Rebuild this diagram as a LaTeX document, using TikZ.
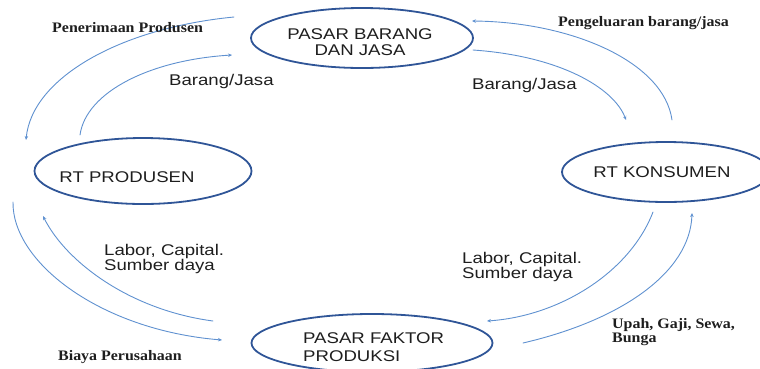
\documentclass[tikz,border=0pt]{standalone}
\usepackage{fontspec}
\usepackage{tikz}
\usetikzlibrary{shapes.geometric,arrows.meta,calc,positioning}
\newfontfamily\sansf{Liberation Sans}[FakeStretch=1.2]
\newfontfamily\serf{Liberation Serif}[FakeStretch=1.1]
\definecolor{ellblue}{RGB}{47,85,151}
\definecolor{arrblue}{RGB}{95,145,208}
\definecolor{txt}{RGB}{30,30,30}
\tikzset{
  pasar/.style={draw=ellblue,line width=1.8pt,ellipse,inner sep=0pt},
  lab/.style={inner sep=0pt,anchor=west,text=txt,font=\fontsize{15.5}{15}\sansf,align=left},
  slab/.style={inner sep=0pt,anchor=west,text=txt,font=\fontsize{14.5}{14.5}\serf\bfseries,align=left},
  alir/.style={draw=arrblue,line width=0.9pt,-{Stealth[length=4pt,width=3.5pt]}}
}
\begin{document}
\begin{tikzpicture}[x=1pt,y=-1pt,line join=round,line cap=round]
		\useasboundingbox (0,0) rectangle (760,368);
		% pasar dan rumah tangga
		\node[pasar,minimum width=222pt,minimum height=60pt] (PB) at (362,38) {};
		\node[pasar,minimum width=217pt,minimum height=66pt] (RTP) at (143,171) {};
		\node[pasar,minimum width=208pt,minimum height=60pt] (RTK) at (666,172) {};
		\node[pasar,minimum width=241pt,minimum height=58pt] (PF) at (372,343) {};
		\node[lab,anchor=center,align=center,font=\fontsize{15.5}{16.5}\sansf] (tPB) at (360,42) {PASAR BARANG\\DAN JASA};
		\node[lab,anchor=center] (tRTP) at (127,177.5) {RT PRODUSEN};
		\node[lab,anchor=center] (tRTK) at (662,172.5) {RT KONSUMEN};
		\node[lab,font=\fontsize{15.5}{18}\sansf] (tPF) at (303,347) {PASAR FAKTOR\\PRODUKSI};
		% ujung panah
		\coordinate (a1) at (234,17);  \coordinate (b1) at (26,140);
		\coordinate (a2) at (80,135);  \coordinate (b2) at (232,55);
		\coordinate (a3) at (672,120); \coordinate (b3) at (472,21);
		\coordinate (a4) at (473,50);  \coordinate (b4) at (626,120);
		\coordinate (a5) at (13,202);  \coordinate (b5) at (222,340);
		\coordinate (a6) at (213,321); \coordinate (b6) at (43,216);
		\coordinate (a7) at (653,212); \coordinate (b7) at (487,321);
		\coordinate (a8) at (523,343); \coordinate (b8) at (692,213);
		\draw[alir] (a1) .. controls (120,28) and (32,78) .. (b1);
		\draw[alir] (a2) .. controls (86,92) and (150,60) .. (b2);
		\draw[alir] (a3) .. controls (664,62) and (572,22) .. (b3);
		\draw[alir] (a4) .. controls (560,56) and (614,88) .. (b4);
		\draw[alir] (a5) .. controls (12,262) and (100,330) .. (b5);
		\draw[alir] (a6) .. controls (130,310) and (66,262) .. (b6);
		\draw[alir] (a7) .. controls (630,272) and (560,316) .. (b7);
		\draw[alir] (a8) .. controls (622,320) and (690,272) .. (b8);
		% keterangan
		\node[slab] (penerimaan) at (52,28) {Penerimaan Produsen};
		\node[slab] (pengeluaran) at (558,23.5) {Pengeluaran barang/jasa};
		\node[slab] (biaya) at (58,357) {Biaya Perusahaan};
		\node[slab] (upah) at (612,332) {Upah, Gaji, Sewa,\\Bunga};
		\node[lab] (brgL) at (169,81) {Barang/Jasa};
		\node[lab] (brgR) at (472,85.5) {Barang/Jasa};
		\node[lab] (labL) at (104,258.5) {Labor, Capital.\\Sumber daya};
		\node[lab] (labR) at (462,266.5) {Labor, Capital.\\Sumber daya};
\end{tikzpicture}
\end{document}
